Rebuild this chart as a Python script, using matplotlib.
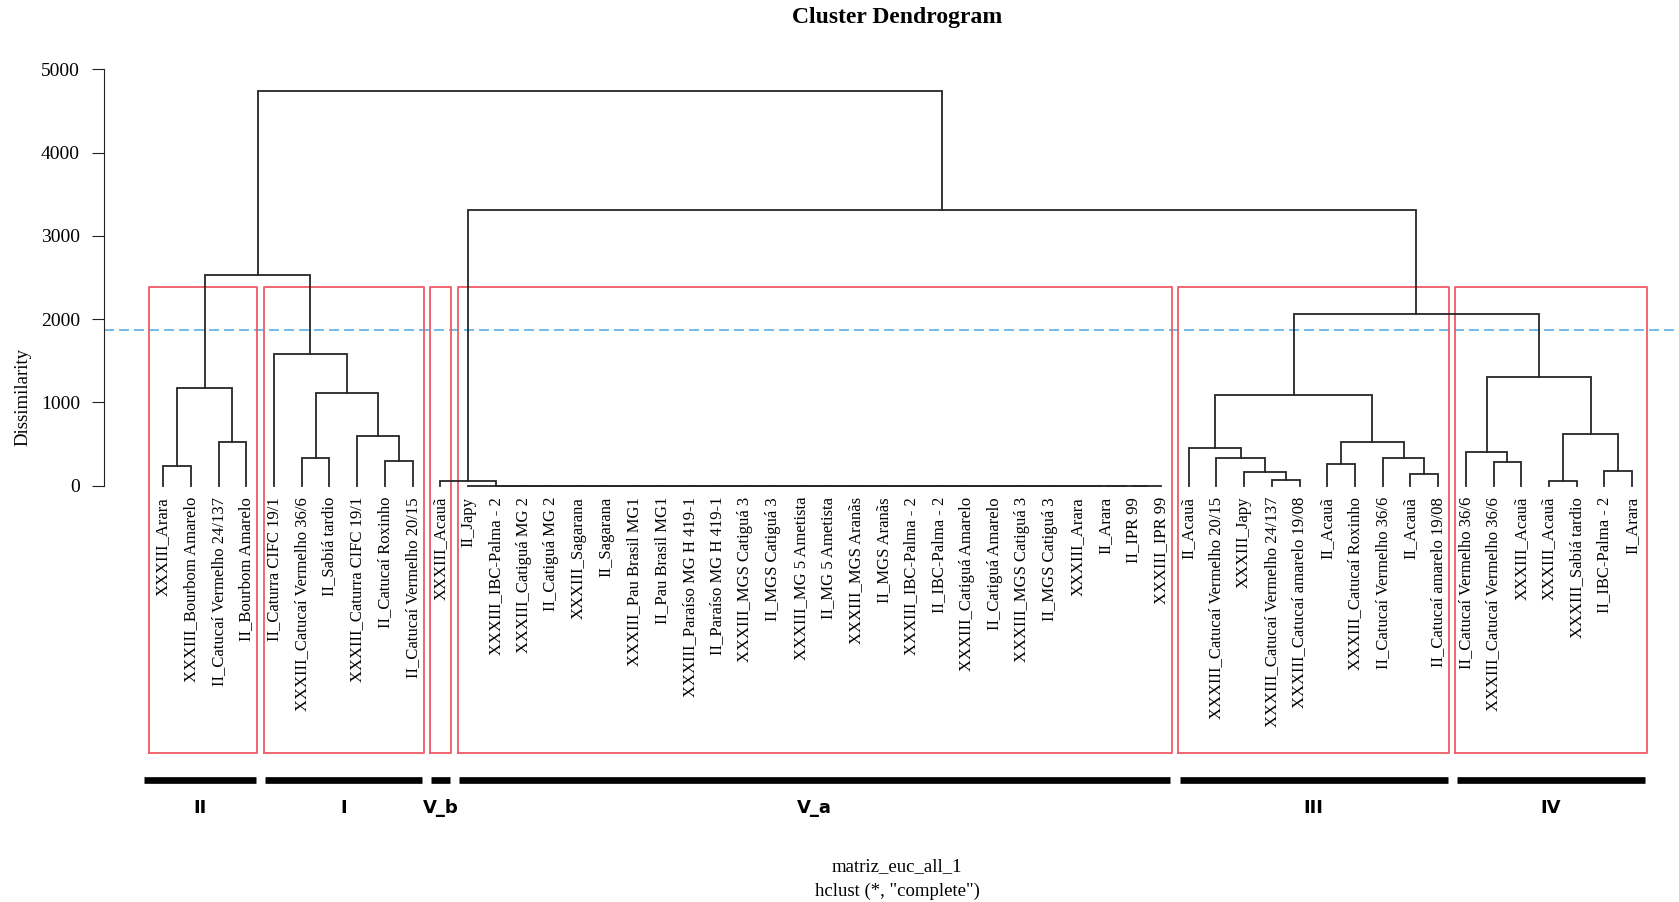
import matplotlib.pyplot as plt

# leaf labels, left to right as they appear under the tree
leaf_labels = [
    # II
    "XXXIII_Arara", "XXXIII_Bourbom Amarelo", "II_Catucaí Vermelho 24/137", "II_Bourbom Amarelo",
    # I
    "II_Caturra CIFC 19/1", "XXXIII_Catucaí Vermelho 36/6", "II_Sabiá tardio",
    "XXXIII_Caturra CIFC 19/1", "II_Catucaí Roxinho", "II_Catucaí Vermelho 20/15",
    # V_b
    "XXXIII_Acauã",
    # V_a
    "II_Japy", "XXXIII_IBC-Palma - 2", "XXXIII_Catiguá MG 2", "II_Catiguá MG 2",
    "XXXIII_Sagarana", "II_Sagarana", "XXXIII_Pau Brasil MG1", "II_Pau Brasil MG1",
    "XXXIII_Paraíso MG H 419-1", "II_Paraíso MG H 419-1", "XXXIII_MGS Catiguá 3",
    "II_MGS Catiguá 3", "XXXIII_MG 5 Ametista", "II_MG 5 Ametista", "XXXIII_MGS Aranãs",
    "II_MGS Aranãs", "XXXIII_IBC-Palma - 2", "II_IBC-Palma - 2", "XXXIII_Catiguá Amarelo",
    "II_Catiguá Amarelo", "XXXIII_MGS Catiguá 3", "II_MGS Catiguá 3", "XXXIII_Arara",
    "II_Arara", "II_IPR 99", "XXXIII_IPR 99",
    # III
    "II_Acauã", "XXXIII_Catucaí Vermelho 20/15", "XXXIII_Japy", "XXXIII_Catucaí Vermelho 24/137",
    "XXXIII_Catucaí amarelo 19/08", "II_Acauã", "XXXIII_Catucaí Roxinho",
    "II_Catucaí Vermelho 36/6", "II_Acauã", "II_Catucaí amarelo 19/08",
    # IV
    "II_Catucaí Vermelho 36/6", "XXXIII_Catucaí Vermelho 36/6", "XXXIII_Acauã", "XXXIII_Acauã",
    "XXXIII_Sabiá tardio", "II_IBC-Palma - 2", "II_Arara",
]

# R-style merge table: negative = leaf number (1-based), positive = earlier row (1-based)
merge_left = [
    -36, -35, -34, -33, -32, -31, -30, -29, -28, -27, -26, -25, -24,
    -23, -22, -21, -20, -19, -18, -17, -16, -15, -14, -13, -12,
    -11,
    -1, -3, 27, -9, -6, -8, 31, -5, 29,
    -41, -40, -39, -38, -43, -46, -45, 40, 39,
    -49, -48, -51, -53, 47, 46,
    44, 26, 35,
]
merge_right = [
    -37, 1, 2, 3, 4, 5, 6, 7, 8, 9, 10, 11, 12,
    13, 14, 15, 16, 17, 18, 19, 20, 21, 22, 23, 24,
    25,
    -2, -4, 28, -10, -7, 30, 32, 33, 34,
    -42, 36, 37, 38, -44, -47, 41, 42, 43,
    -50, 45, -52, -54, 48, 49,
    50, 51, 52,
]
merge_height = [
    0, 0, 0, 0, 0, 0, 0, 0, 0, 0, 0, 0, 0,
    0, 0, 0, 0, 0, 0, 0, 0, 0, 0, 0, 0,
    60,
    240, 528, 1177, 300, 333, 593, 1109, 1585, 2530,
    72, 165, 333, 456, 257, 137, 329, 528, 1093,
    285, 408, 56, 180, 624, 1309,
    2058, 3310, 4743,
]

cluster_names = ["II", "I", "V_b", "V_a", "III", "IV"]
cluster_sizes = [4, 6, 1, 26, 10, 7]
rect_top = 2386
cut_height = 1873

n_leaves = len(leaf_labels)
n_clusters = len(cluster_names)
serif = "Liberation Serif"

fig = plt.figure(figsize=(16.79, 9.02), dpi=100)
ax = fig.add_axes([0.0622, 0.4440, 0.9449, 0.4866])
ax.set_xlim(1 - 0.04 * (n_leaves - 1), n_leaves + 0.04 * (n_leaves - 1))
ax.set_ylim(-190, 5080)

# tree
node_x = {}
for i, (a, b, h) in enumerate(zip(merge_left, merge_right, merge_height), start=1):
    xa, ha = (-a, 0) if a < 0 else (node_x[a], merge_height[a - 1])
    xb, hb = (-b, 0) if b < 0 else (node_x[b], merge_height[b - 1])
    ax.plot([xa, xa, xb, xb], [ha, h, h, hb], color="#262626", lw=1.3,
            solid_joinstyle="miter", clip_on=False)
    node_x[i] = (xa + xb) / 2

for i, lab in enumerate(leaf_labels, start=1):
    ax.text(i, -135, lab, rotation=90, ha="center", va="top", fontsize=12,
            family=serif, clip_on=False)

# cut line
ax.axhline(cut_height, color="#5aaee8", lw=1.2, dashes=(6, 3), zorder=0)

# cluster boxes, bars and names
start = 0
for k, (name, size) in enumerate(zip(cluster_names, cluster_sizes)):
    first, last = k == 0, k == n_clusters - 1
    x0 = start + (0.5 if first else 0.62)
    x1 = start + size + (0.53 if last else 0.4)
    ax.plot([x0, x0, x1, x1, x0], [-3210, rect_top, rect_top, -3210, -3210],
            color="#f05a64", lw=1.3, clip_on=False, zorder=1)
    b0 = start + (0.31 if first else 0.68)
    b1 = start + size + (0.46 if last else 0.34)
    ax.plot([b0, b1], [-3534, -3534], color="black",
            lw=4.8, solid_capstyle="butt", clip_on=False)
    ax.text((b0 + b1) / 2, -3870, name, ha="center", va="center",
            fontsize=13, fontweight="bold", family="DejaVu Sans", clip_on=False)
    start += size

# axes styling like base R
for side in ["top", "right", "bottom"]:
    ax.spines[side].set_visible(False)
ax.spines["left"].set_bounds(0, 5000)
ax.spines["left"].set_color("#222222")
ax.set_xticks([])
ax.set_yticks([0, 1000, 2000, 3000, 4000, 5000])
ax.tick_params(axis="y", length=8.6, pad=9, labelsize=14, color="#222222")
for t in ax.get_yticklabels():
    t.set_family(serif)

fig.text(23 / 1679, 1 - 397 / 902, "Dissimilarity", rotation=90, ha="center",
         va="center", fontsize=13.5, family=serif)
fig.text(897 / 1679, 1 - 17 / 902, "Cluster Dendrogram", ha="center", va="center",
         fontsize=17, fontweight="bold", family=serif)
fig.text(897 / 1679, 1 - 867 / 902, "matriz_euc_all_1", ha="center", va="center",
         fontsize=13.5, family=serif)
fig.text(897 / 1679, 1 - 891 / 902, 'hclust (*, "complete")', ha="center", va="center",
         fontsize=13.5, family=serif)

fig.savefig("out.png", dpi=100)
